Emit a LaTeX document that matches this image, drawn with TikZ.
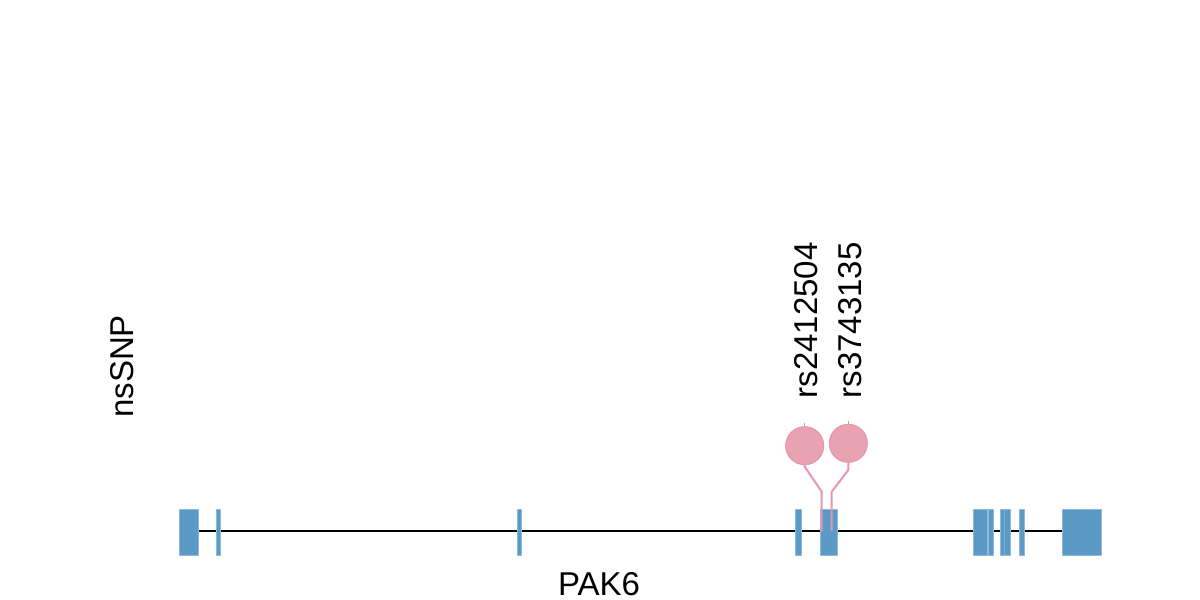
\documentclass[tikz,border=0pt]{standalone}
\usepackage{fontspec}
\setmainfont{Liberation Sans}
\definecolor{exon}{HTML}{5B99C6}
\definecolor{exonedge}{HTML}{90BADA}
\definecolor{lolli}{HTML}{E8A2B2}
\definecolor{lolliedge}{HTML}{E597AD}
\begin{document}
\begin{tikzpicture}[x=0.75pt,y=-0.75pt,
  exonbox/.style={fill=exon, draw=exonedge, line width=0.6pt},
  stem/.style={draw=lolliedge, line width=1.5pt},
  head/.style={circle, fill=lolli, draw=lolliedge, line width=0.8pt, minimum size=28.5pt, inner sep=0pt},
  tick/.style={draw=gray!70, line width=0.8pt},
  lbl/.style={font=\fontsize{24.75}{30}\selectfont, inner sep=0pt, text=black},
  genebone/.style={draw=black, line width=1.5pt}]
\useasboundingbox (0,0) rectangle (1200,600);
\fill[white] (0,0) rectangle (1200,600);
\coordinate (gs) at (180,531);
\coordinate (ge) at (1100,531);
\draw[genebone] (gs) -- (ge);
\foreach \a/\b in {179/198, 216/220, 517/521, 795/801, 820/837, 973/987, 988/993, 1000/1010, 1019/1024, 1062/1101}
  \path[exonbox] (\a,509) rectangle (\b,555);
\draw[exonedge!60!exon, line width=0.5pt] (1004.5,509) -- (1004.5,555);
% lollipops
\node[head] (c1) at (804.7,445.7) {};
\node[head] (c2) at (848.3,443.3) {};
\coordinate (s1) at (821.7,531);
\coordinate (s2) at (831.7,531);
\draw[stem] (c1.south) -- (804.7,466.7) -- (821.7,491.7) -- (s1);
\draw[stem] (c2.south) -- (848.3,470) -- (831.7,491.7) -- (s2);
\draw[tick] (c1.north) -- ++(0,-3);
\draw[tick] (c2.north) -- ++(0,-3);
% labels
\node[lbl, rotate=90, anchor=base west] (l1) at (817,398.5) {rs2412504};
\node[lbl, rotate=90, anchor=base west] (l2) at (861,398.5) {rs3743135};
\node[lbl, rotate=90, anchor=base west] (ns) at (133.5,418) {nsSNP};
\node[lbl, anchor=base] (gene) at (599,595.5) {PAK6};
\end{tikzpicture}
\end{document}
